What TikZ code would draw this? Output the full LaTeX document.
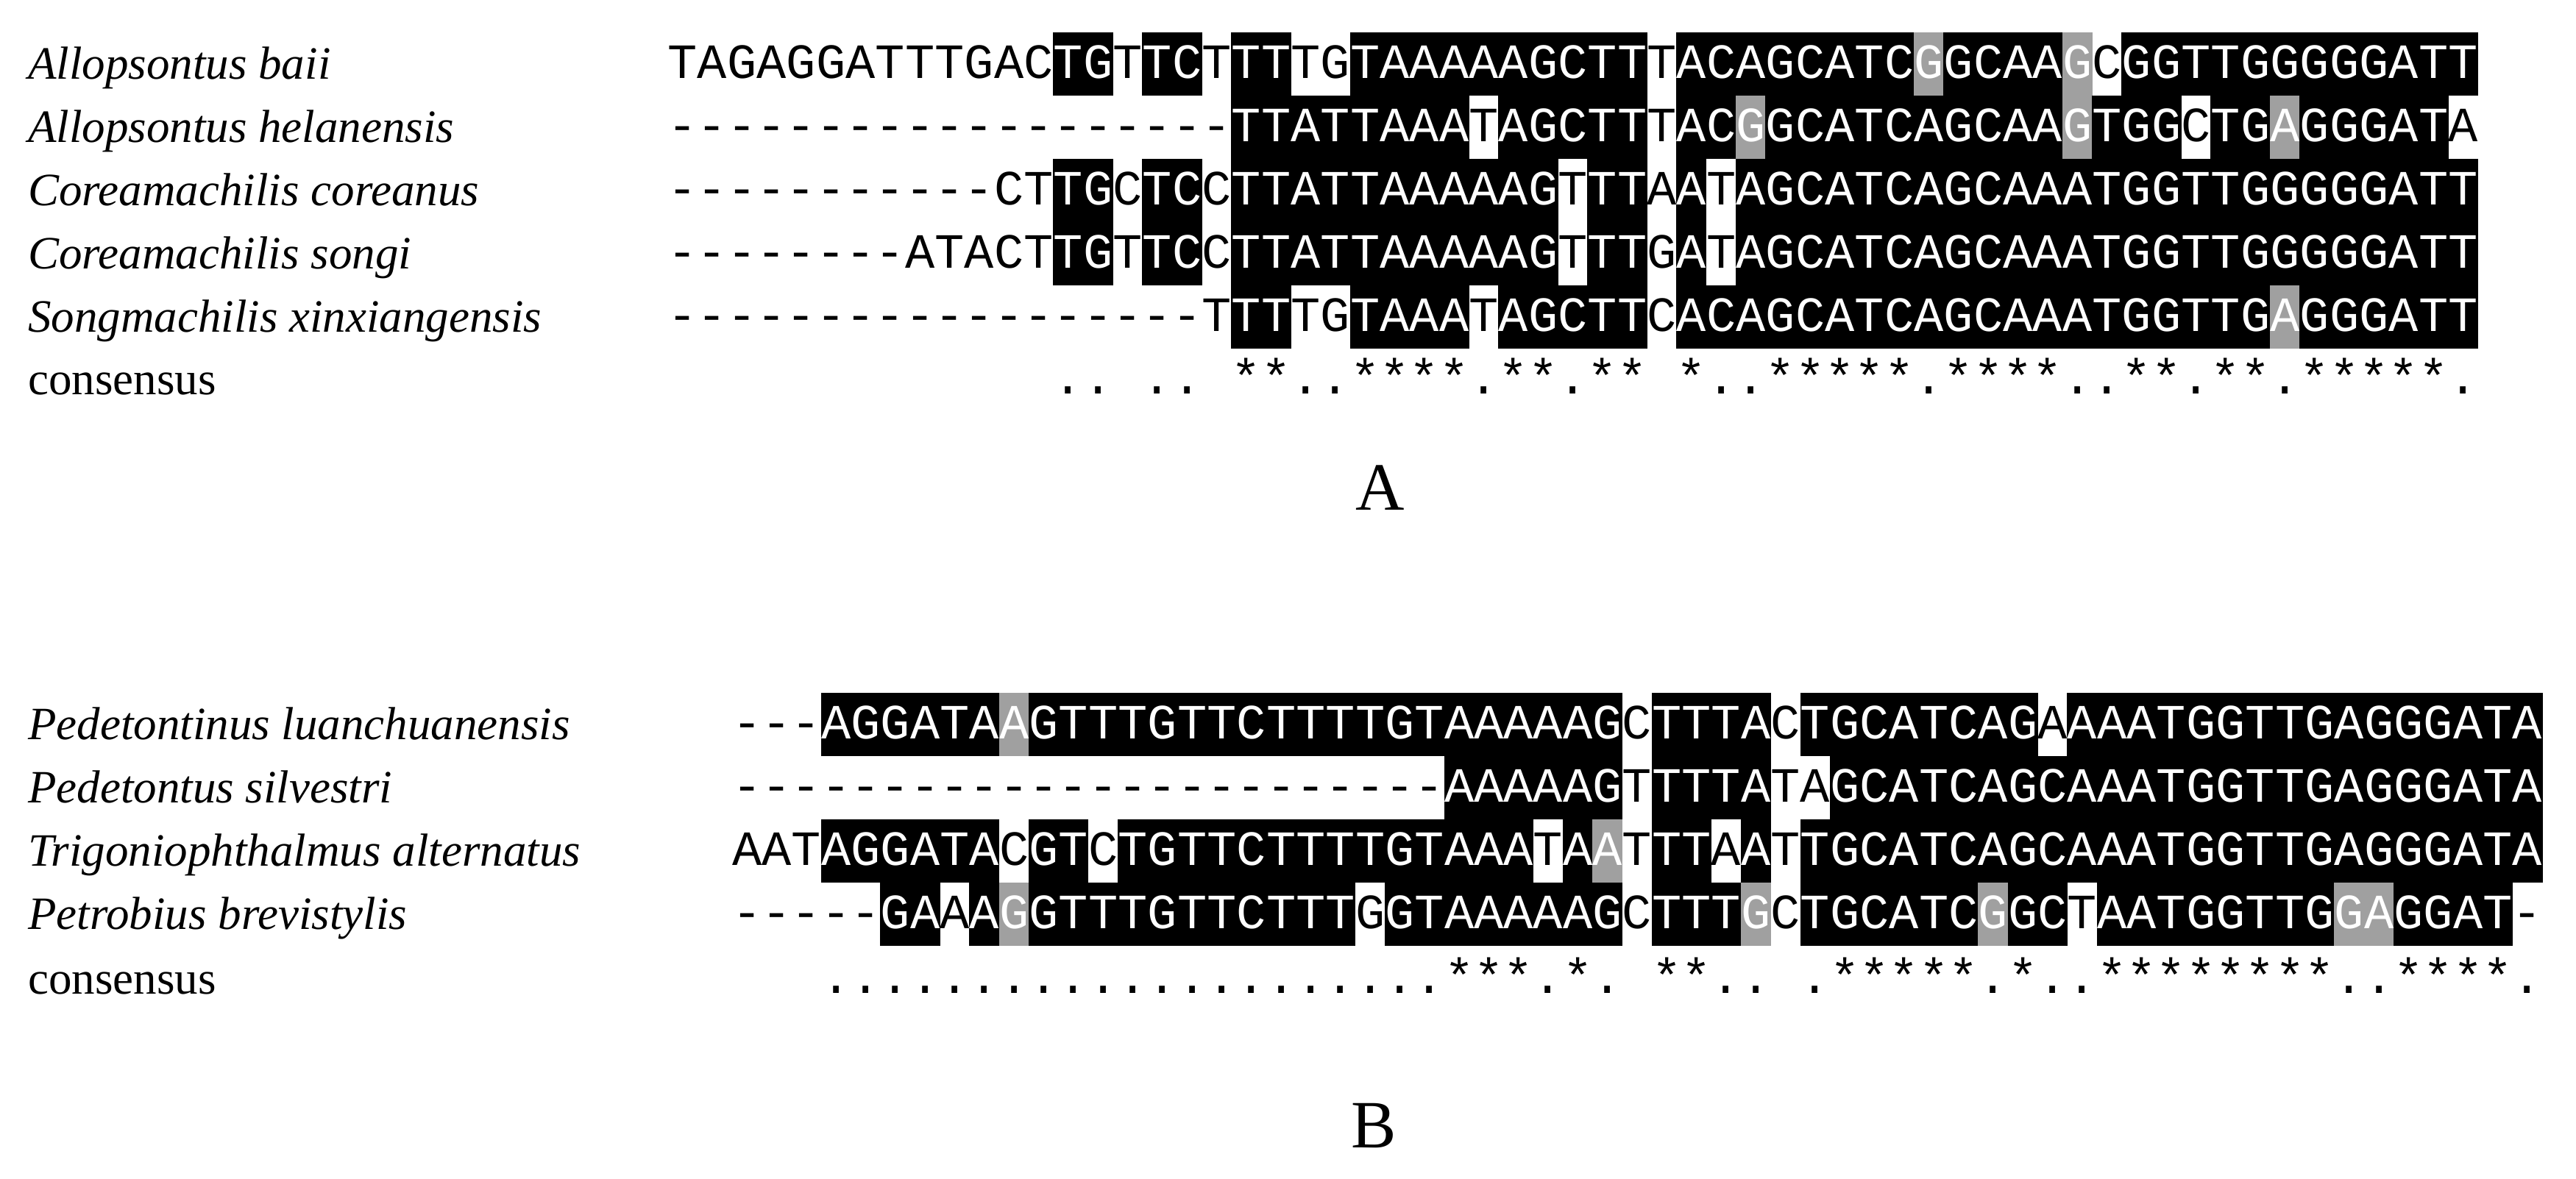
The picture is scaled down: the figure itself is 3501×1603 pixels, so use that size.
\documentclass[tikz,border=0pt]{standalone}
\usepackage{fontspec}
\setmainfont{Liberation Serif}
\newfontfamily\monofont{Liberation Mono}
\definecolor{shg}{RGB}{160,160,160}
\ExplSyntaxOn
\cs_new:Npn \strat #1#2 { \str_item:Nn #1 {#2} }
\ExplSyntaxOff
\def\cw{40.33}
\newcommand\alnrow[5]{%
 \foreach \i in {1,...,61}{%
   \edef\ch{\strat#4{\i}}\edef\sh{\strat#5{\i}}%
   \pgfmathsetmacro\xl{#2+(\i-1)*\cw}%
   \def\tc{black}%
   \if b\sh \fill[black] (\xl-0.4,#3+43) rectangle (\xl+\cw+0.4,#3-43.4);\def\tc{white}\fi
   \if g\sh \fill[shg] (\xl-0.4,#3+43) rectangle (\xl+\cw+0.4,#3-43.4);\def\tc{white}\fi
   \if _\ch \else \node[seq,text=\tc] (#1-\i) at (\xl+\cw/2,#3-19) {\ch};\fi
 }}
% panel A
\def\Aa{TAGAGGATTTGACTGTTCTTTTGTAAAAAGCTTTACAGCATCGGCAAGCGGTTGGGGGATT}
\def\Sa{wwwwwwwwwwwwwbbwbbwbbwwbbbbbbbbbbwbbbbbbbbgbbbbgwbbbbbbbbbbbb}
\def\Ab{-------------------TTATTAAATAGCTTTACGGCATCAGCAAGTGGCTGAGGGATA}
\def\Sb{wwwwwwwwwwwwwwwwwwwbbbbbbbbwbbbbbwbbgbbbbbbbbbbgbbbwbbgbbbbbw}
\def\Ac{-----------CTTGCTCCTTATTAAAAAGTTTAATAGCATCAGCAAATGGTTGGGGGATT}
\def\Sc{wwwwwwwwwwwwwbbwbbwbbbbbbbbbbbwbbwbwbbbbbbbbbbbbbbbbbbbbbbbbb}
\def\Ad{--------ATACTTGTTCCTTATTAAAAAGTTTGATAGCATCAGCAAATGGTTGGGGGATT}
\def\Ae{------------------TTTTGTAAATAGCTTCACAGCATCAGCAAATGGTTGAGGGATT}
\def\Se{wwwwwwwwwwwwwwwwwwwbbwwbbbbwbbbbbwbbbbbbbbbbbbbbbbbbbbgbbbbbb}
\def\Acon{_____________.._.._**..****.**.**_*..*****.****..**.**.*****.}
\def\Sw{wwwwwwwwwwwwwwwwwwwwwwwwwwwwwwwwwwwwwwwwwwwwwwwwwwwwwwwwwwwww}
% panel B
\def\Ba{---AGGATAAGTTTGTTCTTTTGTAAAAAGCTTTACTGCATCAGAAAATGGTTGAGGGATA}
\def\Ta{wwwbbbbbbgbbbbbbbbbbbbbbbbbbbbwbbbbwbbbbbbbbwbbbbbbbbbbbbbbbb}
\def\Bb{------------------------AAAAAGTTTTATAGCATCAGCAAATGGTTGAGGGATA}
\def\Tb{wwwwwwwwwwwwwwwwwwwwwwwwbbbbbbwbbbbwwbbbbbbbbbbbbbbbbbbbbbbbb}
\def\Bc{AATAGGATACGTCTGTTCTTTTGTAAATAATTTAATTGCATCAGCAAATGGTTGAGGGATA}
\def\Tc{wwwbbbbbbwbbwbbbbbbbbbbbbbbwbgwbbwbwbbbbbbbbbbbbbbbbbbbbbbbbb}
\def\Bd{-----GAAAGGTTTGTTCTTTGGTAAAAAGCTTTGCTGCATCGGCTAATGGTTGGAGGAT-}
\def\Td{wwwwwbbwbgbbbbbbbbbbbwbbbbbbbbwbbbgwbbbbbbgbbwbbbbbbbbggbbbbw}
\def\Bcon{___.....................***.*._**.._.*****.*..********..****.}
\begin{document}
\begin{tikzpicture}[x=1pt,y=1pt,
  seq/.style={font=\monofont\fontsize{67}{70}\selectfont,inner sep=0pt,anchor=base},
  lab/.style={font=\fontsize{63}{70}\selectfont\itshape,inner sep=0pt,anchor=base west},
  plab/.style={font=\fontsize{63}{70}\selectfont,inner sep=0pt,anchor=base west},
  big/.style={font=\fontsize{92}{100}\selectfont,inner sep=0pt}]
\useasboundingbox (0,0) rectangle (3501,-1603);
\fill[white] (0,0) rectangle (3501,-1603);
% Panel A
\alnrow{a1}{907.5}{-87}{\Aa}{\Sa}
\alnrow{a2}{907.5}{-173}{\Ab}{\Sb}
\alnrow{a3}{907.5}{-259}{\Ac}{\Sc}
\alnrow{a4}{907.5}{-345}{\Ad}{\Sc}
\alnrow{a5}{907.5}{-431}{\Ae}{\Se}
\alnrow{ac}{907.5}{-516}{\Acon}{\Sw}
\node[lab] (la1) at (38,-107) {Allopsontus baii};
\node[lab] (la2) at (38,-193) {Allopsontus helanensis};
\node[lab] (la3) at (38,-279) {Coreamachilis coreanus};
\node[lab] (la4) at (38,-365) {Coreamachilis songi};
\node[lab] (la5) at (38,-451) {Songmachilis xinxiangensis};
\node[plab] (lac) at (38,-536) {consensus};
\node[big] (A) at (1876,-663) {A};
% Panel B
\alnrow{b1}{995}{-985}{\Ba}{\Ta}
\alnrow{b2}{995}{-1071}{\Bb}{\Tb}
\alnrow{b3}{995}{-1157}{\Bc}{\Tc}
\alnrow{b4}{995}{-1243}{\Bd}{\Td}
\alnrow{bc}{995}{-1331}{\Bcon}{\Sw}
\node[lab] (lb1) at (38,-1005) {Pedetontinus luanchuanensis};
\node[lab] (lb2) at (38,-1091) {Pedetontus silvestri};
\node[lab] (lb3) at (38,-1177) {Trigoniophthalmus alternatus};
\node[lab] (lb4) at (38,-1263) {Petrobius brevistylis};
\node[plab] (lbc) at (38,-1351) {consensus};
\node[big] (B) at (1867,-1530) {B};
\end{tikzpicture}
\end{document}
